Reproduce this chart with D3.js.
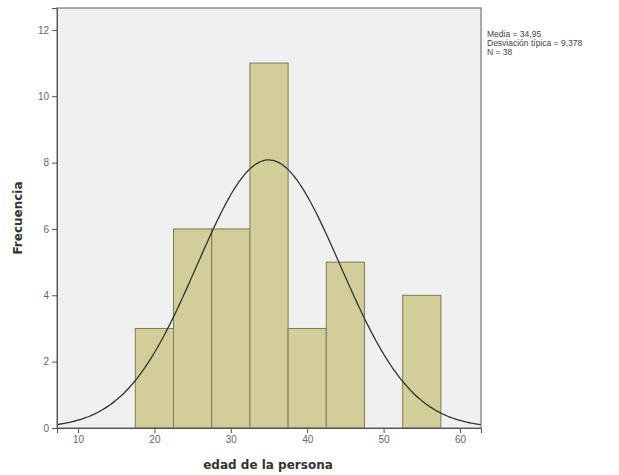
<!DOCTYPE html>
<html><head><meta charset="utf-8">
<script src="https://cdn.jsdelivr.net/npm/d3@7"></script>
<style>body{margin:0;background:#fff}svg{display:block}</style>
</head><body><svg id="c" width="619" height="475"></svg>
<script>
const binStarts = [17.5, 22.5, 27.5, 32.5, 37.5, 42.5, 47.5, 52.5];
const binWidth = 5;
const counts = [3, 6, 6, 11, 3, 5, 0, 4];
const xTicks = [10, 20, 30, 40, 50, 60];
const yTicks = [0, 2, 4, 6, 8, 10, 12];
const meanVal = 34.95, sdVal = 9.378, nVal = 38;
const statsLines = ["Media = 34,95", "Desviación típica = 9,378", "N = 38"];
const xTitle = "edad de la persona", yTitle = "Frecuencia";

const svg = d3.select("#c");
const L = 57, T = 8, R = 481, B = 428;
const x = d3.scaleLinear().domain([7.25, 62.75]).range([L, R]);
const y = d3.scaleLinear().domain([0, 12.66]).range([B, T]);

svg.append("rect").attr("x", L).attr("y", T).attr("width", R - L).attr("height", B - T).attr("fill", "#f0f0f0");

const bins = binStarts.map((s, i) => ({s, c: counts[i]})).filter(d => d.c > 0);
svg.append("g").selectAll("rect").data(bins).join("rect")
  .attr("x", d => x(d.s)).attr("width", d => x(d.s + binWidth) - x(d.s))
  .attr("y", d => y(d.c)).attr("height", d => y(0) - y(d.c))
  .attr("fill", "#d3cd99").attr("stroke", "#7f7a55").attr("stroke-width", 1);

// normal curve
const pts = d3.range(7.25, 62.76, 0.25).map(v => [v, nVal * binWidth / (sdVal * Math.sqrt(2 * Math.PI)) * Math.exp(-0.5 * ((v - meanVal) / sdVal) ** 2)]);
svg.append("path").datum(pts)
  .attr("d", d3.line().x(d => x(d[0])).y(d => y(d[1])).curve(d3.curveBasis))
  .attr("fill", "none").attr("stroke", "#333").attr("stroke-width", 1.3);

svg.append("rect").attr("x", L).attr("y", T).attr("width", R - L).attr("height", B - T)
  .attr("fill", "none").attr("stroke", "#777").attr("stroke-width", 1.2);

const yAx = svg.append("g").attr("transform", `translate(${L},0)`)
  .call(d3.axisLeft(y).tickValues(yTicks).tickSize(5).tickPadding(3));
const xAx = svg.append("g").attr("transform", `translate(0,${B})`)
  .call(d3.axisBottom(x).tickValues(xTicks).tickSize(5).tickPadding(3));
[yAx, xAx].forEach(a => {
  a.select(".domain").attr("stroke", "#555");
  a.selectAll(".tick line").attr("stroke", "#555");
  a.selectAll("text").attr("fill", "#666").attr("font-family", "Arial, Liberation Sans, sans-serif").attr("font-size", 10);
});

svg.append("text").attr("transform", "translate(22,218) rotate(-90)").attr("text-anchor", "middle")
  .attr("font-family", "DejaVu Sans, sans-serif").attr("font-weight", "bold").attr("font-size", 12).attr("fill", "#333")
  .text(yTitle);
svg.append("text").attr("x", 268).attr("y", 469).attr("text-anchor", "middle")
  .attr("font-family", "DejaVu Sans, sans-serif").attr("font-weight", "bold").attr("font-size", 12).attr("fill", "#333")
  .text(xTitle);

svg.append("g").selectAll("text").data(statsLines).join("text")
  .attr("x", 487).attr("y", (d, i) => 37 + i * 9)
  .attr("font-family", "Arial, Liberation Sans, sans-serif").attr("font-size", 8.5).attr("fill", "#444")
  .text(d => d);
</script></body></html>
